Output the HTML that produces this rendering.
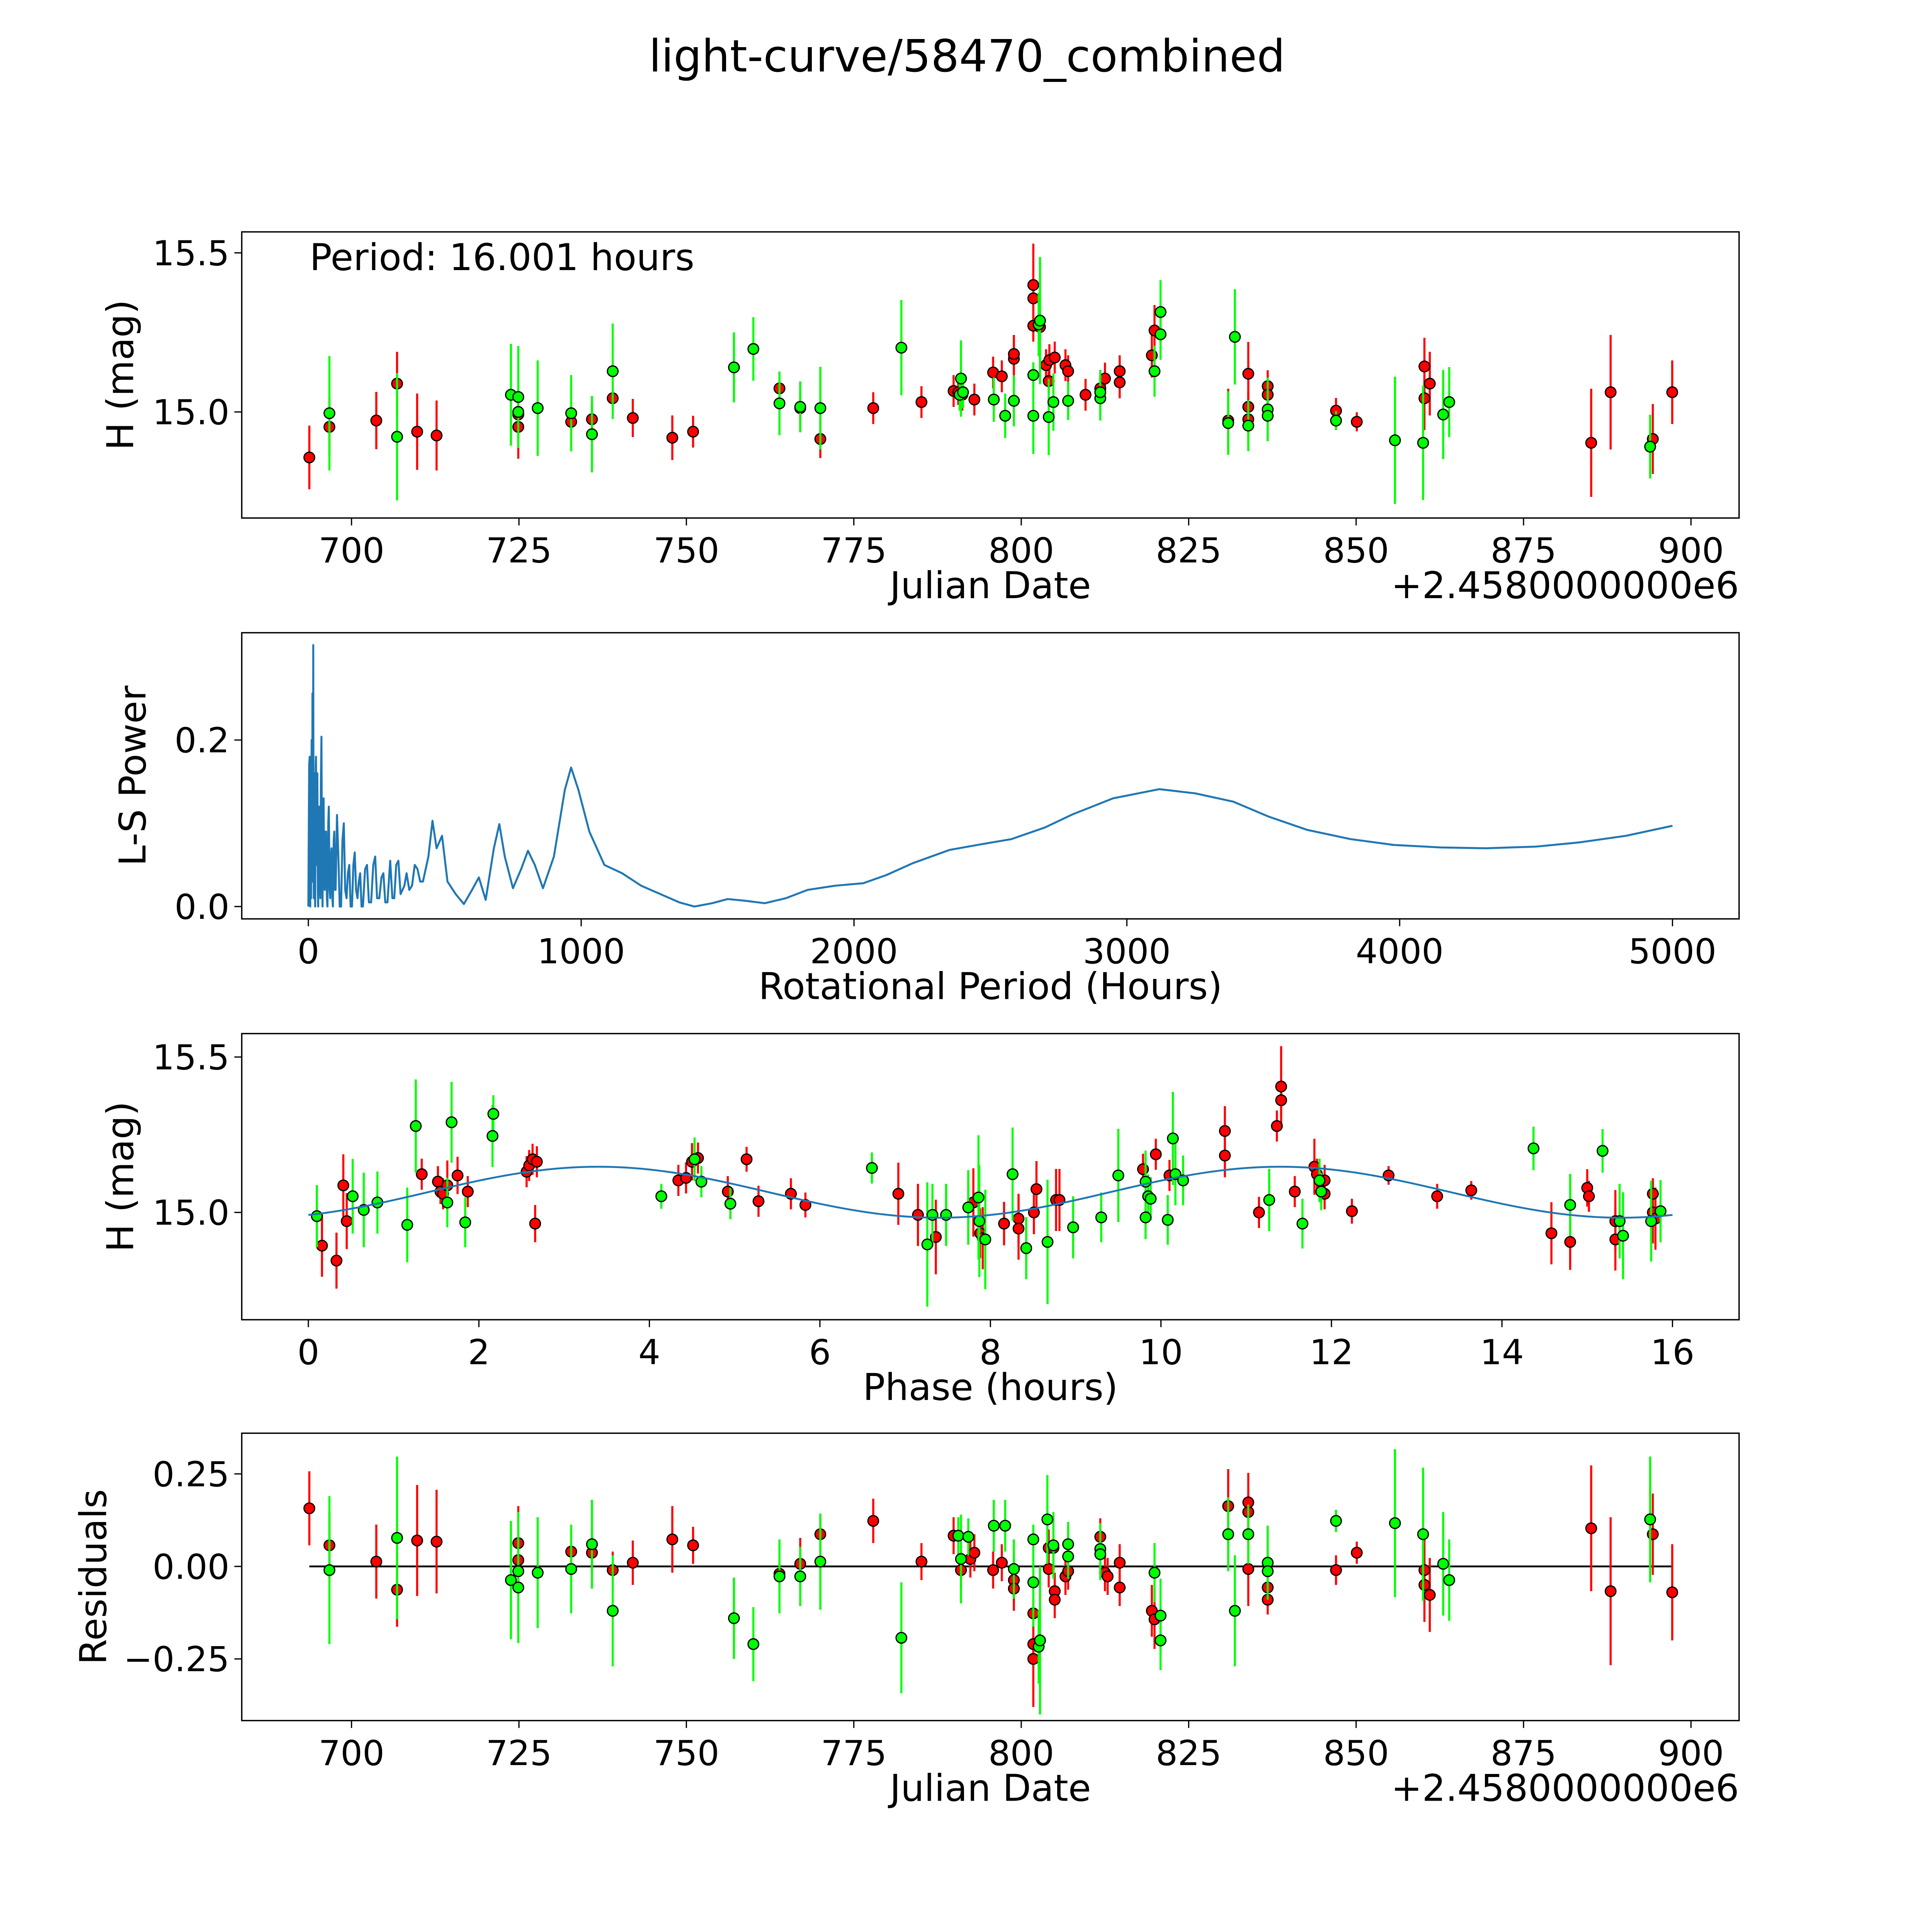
<!DOCTYPE html>
<html><head><meta charset="utf-8">
<style>
html,body{margin:0;padding:0;background:#fff;overflow:hidden;}
svg{display:block;position:absolute;left:0;top:0;width:4954px;height:4954px;}
text{font-family:"DejaVu Sans","Liberation Sans",sans-serif;fill:#000;}
</style></head>
<body>
<svg id="chart" width="4954" height="4954" viewBox="0 0 1552 1552" preserveAspectRatio="none" xmlns="http://www.w3.org/2000/svg">
<rect x="0" y="0" width="1552" height="1552" fill="#fff"/>
<text x="784" y="58" font-size="36" text-anchor="middle">light-curve/58470_combined</text>
<g id="g1"></g><g id="g2"></g><g id="g3"></g><g id="g4"></g>
</svg>
<script>
// ---------- DATA ----------
const lcRedDate=[693.7,696.7,703.7,706.8,709.8,712.7,724.9,724.9,732.8,735.9,739.0,742.0,747.9,751.0,763.9,767.0,770.0,777.9,785.1,789.9,790.6,791.2,793.0,795.8,797.1,798.9,798.9,801.8,801.8,801.8,802.8,803.7,804.2,805.0,804.1,806.6,807.0,809.6,811.8,812.5,814.7,814.7,819.5,819.9,830.9,833.9,833.9,833.9,836.8,836.8,847.0,850.1,860.2,860.2,861.0,885.1,888.0,894.3,897.2];
const lcRedMag=[14.857,14.953,14.973,15.089,14.938,14.926,14.992,14.953,14.969,14.977,15.043,14.981,14.919,14.938,15.074,15.012,14.915,15.012,15.031,15.066,15.062,15.054,15.039,15.124,15.112,15.167,15.182,15.399,15.357,15.271,15.267,15.147,15.163,15.171,15.097,15.147,15.128,15.054,15.074,15.105,15.093,15.128,15.178,15.256,14.973,15.016,14.977,15.120,15.081,15.054,15.004,14.969,15.143,15.043,15.089,14.903,15.062,14.915,15.062];
const lcRedErr=[0.1,0.09,0.09,0.1,0.12,0.11,0.04,0.1,0.08,0.05,0.05,0.06,0.07,0.05,0.05,0.07,0.06,0.05,0.05,0.05,0.04,0.05,0.05,0.05,0.05,0.06,0.06,0.13,0.05,0.05,0.05,0.05,0.05,0.05,0.04,0.05,0.05,0.05,0.05,0.05,0.05,0.05,0.07,0.08,0.1,0.05,0.08,0.1,0.05,0.04,0.04,0.03,0.09,0.1,0.1,0.17,0.18,0.11,0.1];
const lcGreenDate=[696.7,706.8,723.8,724.9,724.9,727.8,732.8,735.9,739.0,757.1,760.0,763.9,767.0,770.0,782.1,791.0,790.8,791.3,795.9,797.6,798.9,801.8,801.8,802.6,802.8,804.1,804.8,807.0,811.8,811.8,819.9,820.8,820.8,831.9,830.9,833.9,836.8,836.8,847.0,855.8,860.0,863.0,863.9,893.9];
const lcGreenMag=[14.996,14.922,15.054,15.047,15.0,15.012,14.996,14.930,15.128,15.140,15.198,15.027,15.016,15.012,15.202,15.105,15.054,15.062,15.039,14.988,15.035,15.116,14.988,15.275,15.287,14.984,15.031,15.035,15.043,15.062,15.128,15.314,15.244,15.236,14.965,14.957,15.008,14.988,14.973,14.911,14.903,14.992,15.031,14.891];
const lcGreenErr=[0.18,0.2,0.16,0.16,0.05,0.15,0.12,0.12,0.15,0.11,0.1,0.1,0.08,0.13,0.15,0.12,0.05,0.05,0.07,0.07,0.08,0.04,0.12,0.1,0.2,0.12,0.09,0.06,0.07,0.07,0.08,0.1,0.08,0.15,0.1,0.08,0.1,0.04,0.03,0.2,0.18,0.14,0.11,0.1];
const dateTicks=[700,725,750,775,800,825,850,875,900];
const magTicks=[15.0,15.5];

const lsPeriod=[0,3,5,7,8,10,12,14,15,17,18,19,20,22,24,25,27,28,30,32,33,35,36,38,40,42,44,46,48,50,52,54,56,58,60,63,65,68,70,73,75,78,80,83,85,88,90,93,95,98,100,105,110,115,120,125,130,135,140,145,150,155,160,165,170,175,180,185,190,195,200,208,215,222,230,238,245,252,260,268,275,282,290,295,300,308,315,322,330,338,345,352,360,370,380,390,400,410,420,430,440,455,470,490,510,540,570,600,625,650,680,700,720,750,780,805,830,860,900,940,963,990,1030,1085,1150,1220,1290,1360,1415,1480,1537,1600,1673,1750,1830,1930,2034,2120,2215,2350,2470,2577,2700,2803,2950,3119,3250,3390,3520,3662,3820,3978,4150,4317,4500,4657,4830,5000];
const lsPower=[0,0.17,0.18,0.0,0.17,0.01,0.2,0.03,0.256,0.05,0.314,0.08,0.01,0.16,0.02,0.0,0.17,0.18,0.05,0.14,0.16,0.02,0.0,0.11,0.12,0.03,0.01,0.15,0.204,0.05,0.0,0.1,0.13,0.03,0.02,0.09,0.09,0.01,0.0,0.1,0.12,0.02,0.01,0.06,0.07,0.01,0.0,0.08,0.09,0.02,0.02,0.11,0.06,0.0,0.0,0.08,0.1,0.02,0.01,0.04,0.05,0.0,0.0,0.05,0.065,0.02,0.01,0.03,0.04,0.0,0.0,0.045,0.05,0.005,0.005,0.05,0.06,0.01,0.01,0.035,0.04,0.005,0.005,0.03,0.055,0.01,0.01,0.05,0.055,0.015,0.02,0.025,0.04,0.02,0.025,0.05,0.045,0.03,0.03,0.045,0.06,0.103,0.07,0.085,0.03,0.015,0.003,0.02,0.035,0.008,0.07,0.099,0.06,0.022,0.045,0.067,0.05,0.022,0.06,0.14,0.167,0.14,0.09,0.05,0.04,0.025,0.015,0.005,0.0,0.004,0.009,0.007,0.004,0.01,0.02,0.025,0.028,0.038,0.052,0.068,0.075,0.081,0.095,0.111,0.13,0.141,0.136,0.126,0.108,0.092,0.081,0.074,0.071,0.07,0.072,0.077,0.085,0.097];
const periodTicks=[0,1000,2000,3000,4000,5000];
const powerTicks=[0.0,0.2];

const phRedPhase=[0.16,0.33,0.41,0.45,1.33,1.52,1.55,1.58,1.63,1.75,1.87,2.56,2.59,2.63,2.66,2.68,4.34,4.43,4.50,4.57,4.92,5.14,5.28,5.66,5.83,6.92,7.15,7.36,7.80,7.88,7.91,8.16,8.33,8.33,8.51,8.54,8.77,8.81,9.79,9.94,10.10,10.75,10.75,11.15,11.36,11.41,11.41,11.57,11.80,11.83,11.92,11.92,12.24,12.67,13.24,13.64,14.58,14.80,15.00,15.02,15.33,15.33,15.77,15.77,15.80];
const phRedMag=[14.893,14.845,15.087,14.972,15.123,15.099,15.067,15.060,15.087,15.119,15.067,15.131,15.151,15.171,14.964,15.163,15.103,15.111,15.163,15.175,15.067,15.171,15.036,15.060,15.024,15.060,14.992,14.921,15.032,14.933,14.917,14.964,14.980,14.948,15.000,15.075,15.040,15.040,15.139,15.187,15.119,15.183,15.262,15.000,15.278,15.361,15.405,15.067,15.147,15.123,15.103,15.060,15.004,15.119,15.052,15.071,14.933,14.905,15.079,15.052,14.972,14.913,15.060,15.000,14.980];
const phRedErr=[0.1,0.09,0.1,0.09,0.05,0.05,0.04,0.05,0.08,0.06,0.05,0.05,0.05,0.05,0.06,0.05,0.05,0.05,0.06,0.05,0.05,0.04,0.05,0.05,0.04,0.1,0.1,0.12,0.11,0.08,0.1,0.07,0.08,0.1,0.07,0.09,0.1,0.1,0.05,0.05,0.05,0.07,0.08,0.05,0.05,0.05,0.13,0.05,0.09,0.05,0.05,0.05,0.04,0.03,0.04,0.03,0.1,0.09,0.06,0.05,0.1,0.1,0.05,0.1,0.1];
const phGreenPhase=[0.10,0.52,0.65,0.81,1.16,1.26,1.63,1.68,1.84,2.16,2.17,4.14,4.53,4.61,4.95,6.61,7.26,7.32,7.48,7.74,7.86,7.87,7.94,8.26,8.42,8.67,8.97,9.30,9.50,9.82,9.82,9.85,9.88,10.08,10.14,10.17,10.26,11.27,11.66,11.86,11.88,14.37,14.80,15.18,15.38,15.42,15.75,15.86];
const phGreenMag=[14.988,15.052,15.008,15.032,14.960,15.278,15.032,15.290,14.968,15.246,15.317,15.052,15.171,15.099,15.028,15.143,14.897,14.992,14.992,15.016,15.048,14.972,14.913,15.123,14.885,14.905,14.952,14.984,15.119,14.984,15.099,15.052,15.044,14.976,15.238,15.123,15.103,15.040,14.964,15.103,15.067,15.206,15.024,15.198,14.972,14.925,14.972,15.004];
const phGreenErr=[0.1,0.12,0.12,0.1,0.12,0.15,0.08,0.13,0.08,0.1,0.06,0.04,0.07,0.05,0.05,0.05,0.2,0.1,0.1,0.12,0.2,0.18,0.16,0.15,0.1,0.2,0.1,0.08,0.15,0.07,0.1,0.07,0.07,0.08,0.15,0.1,0.08,0.1,0.08,0.07,0.06,0.07,0.1,0.07,0.12,0.14,0.13,0.1];
const modelParams=[15.065,0.082,1.4,8.0];
const phaseTicks=[0,2,4,6,8,10,12,14,16];

const resRedDate=[693.7,696.7,703.7,706.8,709.8,712.7,724.9,724.9,732.8,735.9,739.0,742.0,747.9,751.0,763.9,767.0,770.0,777.9,785.1,789.9,791.0,792.4,793.0,795.8,797.1,798.9,798.9,801.8,801.8,801.8,804.1,804.1,804.8,805.0,805.0,806.6,807.0,811.8,812.5,812.9,814.7,814.7,819.5,819.9,830.9,833.9,833.9,833.9,836.8,836.8,847.0,850.1,860.2,860.2,861.0,885.1,888.0,894.3,897.2];
const resRedVal=[0.157,0.057,0.013,-0.063,0.070,0.067,0.063,0.017,0.040,0.037,-0.010,0.010,0.073,0.057,-0.020,0.007,0.087,0.123,0.013,0.083,-0.010,0.020,0.037,-0.010,0.010,-0.037,-0.060,-0.127,-0.210,-0.250,0.050,-0.007,0.050,-0.067,-0.090,-0.027,-0.013,0.080,-0.017,-0.027,0.010,-0.057,-0.120,-0.143,0.163,0.147,0.173,-0.007,-0.057,-0.090,-0.010,0.037,-0.010,-0.050,-0.077,0.103,-0.067,0.087,-0.070];
const resRedErr=[0.1,0.09,0.1,0.1,0.15,0.14,0.1,0.04,0.05,0.05,0.05,0.06,0.09,0.05,0.05,0.07,0.05,0.06,0.05,0.05,0.05,0.05,0.05,0.05,0.05,0.06,0.06,0.05,0.06,0.13,0.05,0.05,0.05,0.05,0.05,0.05,0.05,0.05,0.05,0.05,0.05,0.05,0.07,0.08,0.1,0.05,0.08,0.1,0.05,0.04,0.04,0.03,0.09,0.1,0.1,0.17,0.2,0.11,0.13];
const resGreenDate=[696.7,706.8,723.8,724.9,724.9,727.8,732.8,735.9,739.0,757.1,760.0,763.9,767.0,770.0,782.1,790.6,791.0,792.1,795.9,797.6,798.9,801.8,801.8,802.6,802.8,803.9,804.8,807.0,807.0,811.8,811.8,819.9,820.8,820.8,830.9,831.9,833.9,836.8,836.8,847.0,855.8,860.0,863.0,863.9,893.9];
const resGreenVal=[-0.010,0.077,-0.037,-0.013,-0.057,-0.017,-0.007,0.060,-0.120,-0.140,-0.210,-0.027,-0.027,0.013,-0.193,0.083,0.020,0.080,0.110,0.110,-0.007,0.073,-0.043,-0.217,-0.200,0.127,0.057,0.060,0.027,0.047,0.033,-0.017,-0.133,-0.200,0.087,-0.120,0.087,0.010,-0.013,0.123,0.117,0.087,0.007,-0.037,0.127];
const resGreenErr=[0.2,0.22,0.16,0.16,0.15,0.15,0.12,0.12,0.15,0.11,0.1,0.1,0.08,0.13,0.15,0.05,0.12,0.05,0.07,0.07,0.08,0.04,0.12,0.1,0.2,0.12,0.09,0.06,0.06,0.07,0.07,0.08,0.1,0.08,0.1,0.15,0.08,0.1,0.04,0.03,0.2,0.18,0.14,0.11,0.17];
const residTicks=[-0.25,0.0,0.25];

// ---------- DRAWING ----------
const NS='http://www.w3.org/2000/svg';
function mk(parent,tag,attrs){const e=document.createElementNS(NS,tag);for(const k in attrs)e.setAttribute(k,attrs[k]);parent.appendChild(e);return e;}
function lin(d0,d1,r0,r1){return v=>r0+(v-d0)*(r1-r0)/(d1-d0);}
const L=196,R=1410;
const xDate=lin(700,900,285,1371);
const TICK=28, LAB=30;

function frame(g,top,bot,xs,xt,xfmt,ys,yt,yfmt,xlabel,ylabel,offset){
  const r=mk(g,'rect',{x:L,y:top,width:R-L,height:bot-top,fill:'none',stroke:'#000','stroke-width':1.1});
  
  
  xt.forEach(v=>{const x=xs(v);
    const t=mk(g,'line',{x1:x,x2:x,y1:bot,y2:bot+6,stroke:'#000','stroke-width':1});
    
    
    const tx=mk(g,'text',{x:x,y:bot+36,'font-size':TICK,'text-anchor':'middle'});tx.textContent=xfmt(v);
    
    });
  yt.forEach(v=>{const y=ys(v);
    const t=mk(g,'line',{x1:L-6,x2:L,y1:y,y2:y,stroke:'#000','stroke-width':1});
    
    
    const tx=mk(g,'text',{x:L-10,y:y+10,'font-size':TICK,'text-anchor':'end'});tx.textContent=yfmt(v);
    
    });
  const xl=mk(g,'text',{x:(L+R)/2,y:bot+65,'font-size':LAB,'text-anchor':'middle'});xl.textContent=xlabel;
  
  
  const yc=(top+bot)/2;
  const yl=mk(g,'text',{x:0,y:0,'font-size':LAB,'text-anchor':'middle',transform:`translate(${ylabel[1]},${yc}) rotate(-90)`});yl.textContent=ylabel[0];
  
  
  if(offset){const o=mk(g,'text',{x:R,y:bot+65,'font-size':LAB,'text-anchor':'end'});o.textContent=offset;
    
    }
}
function points(g,xs,ys,X,Y,E,color,name){
  X.forEach((xv,i)=>{const x=xs(xv);
    const l=mk(g,'line',{x1:x,x2:x,y1:ys(Y[i]-E[i]),y2:ys(Y[i]+E[i]),stroke:color,'stroke-width':1.7});
    
    });
  X.forEach((xv,i)=>{
    const c=mk(g,'circle',{cx:xs(xv),cy:ys(Y[i]),r:4.3,fill:color,stroke:'#000','stroke-width':1});
    
    });
}
const f1=v=>v.toFixed(1), f0=v=>String(v);

(function(){const g=document.getElementById('g1');
  
  const ys=lin(15.0,15.5,334,205);
  frame(g,188,420,xDate,dateTicks,f0,ys,magTicks,f1,'Julian Date',['H (mag)',108],'+2.4580000000e6');
  points(g,xDate,ys,lcRedDate,lcRedMag,lcRedErr,'#ff0000','red-filter');
  points(g,xDate,ys,lcGreenDate,lcGreenMag,lcGreenErr,'#00ff00','green-filter');
  const t=mk(g,'text',{x:251,y:219,'font-size':30});t.textContent='Period: 16.001 hours';
  
  
})();
(function(){const g=document.getElementById('g2');
  
  const xs=lin(0,5000,250,1356), ys=lin(0,0.2,735,600);
  frame(g,513,745,xs,periodTicks,f0,ys,powerTicks,f1,'Rotational Period (Hours)',['L-S Power',118],null);
  const p=mk(g,'polyline',{points:lsPeriod.map((v,i)=>xs(v)+','+ys(lsPower[i])).join(' '),fill:'none',stroke:'#1f77b4','stroke-width':1.6,'stroke-linejoin':'round'});
  
  
})();
(function(){const g=document.getElementById('g3');
  
  const xs=lin(0,16,250,1356), ys=lin(15.0,15.5,983,857);
  frame(g,838,1070,xs,phaseTicks,f0,ys,magTicks,f1,'Phase (hours)',['H (mag)',108],null);
  points(g,xs,ys,phRedPhase,phRedMag,phRedErr,'#ff0000','red-phased');
  points(g,xs,ys,phGreenPhase,phGreenMag,phGreenErr,'#00ff00','green-phased');
  const pts=[];for(let p=0;p<=16.001;p+=0.1){const m=modelParams[0]+modelParams[1]*Math.sin(2*Math.PI*(p-modelParams[2])/modelParams[3]);pts.push(xs(p)+','+ys(m));}
  const l=mk(g,'polyline',{points:pts.join(' '),fill:'none',stroke:'#1f77b4','stroke-width':1.5});
  
  
})();
(function(){const g=document.getElementById('g4');
  
  const ys=lin(0,0.25,1270,1195);
  frame(g,1162,1395,xDate,dateTicks,f0,ys,residTicks,v=>(v<0?'\u2212'+Math.abs(v).toFixed(2):v.toFixed(2)),'Julian Date',['Residuals',86],'+2.4580000000e6');
  const z=mk(g,'line',{x1:xDate(693.7),x2:xDate(897.2),y1:ys(0),y2:ys(0),stroke:'#000','stroke-width':1.5});
  
  
  points(g,xDate,ys,resRedDate,resRedVal,resRedErr,'#ff0000','red-residual');
  points(g,xDate,ys,resGreenDate,resGreenVal,resGreenErr,'#00ff00','green-residual');
})();
</script>
</body></html>
